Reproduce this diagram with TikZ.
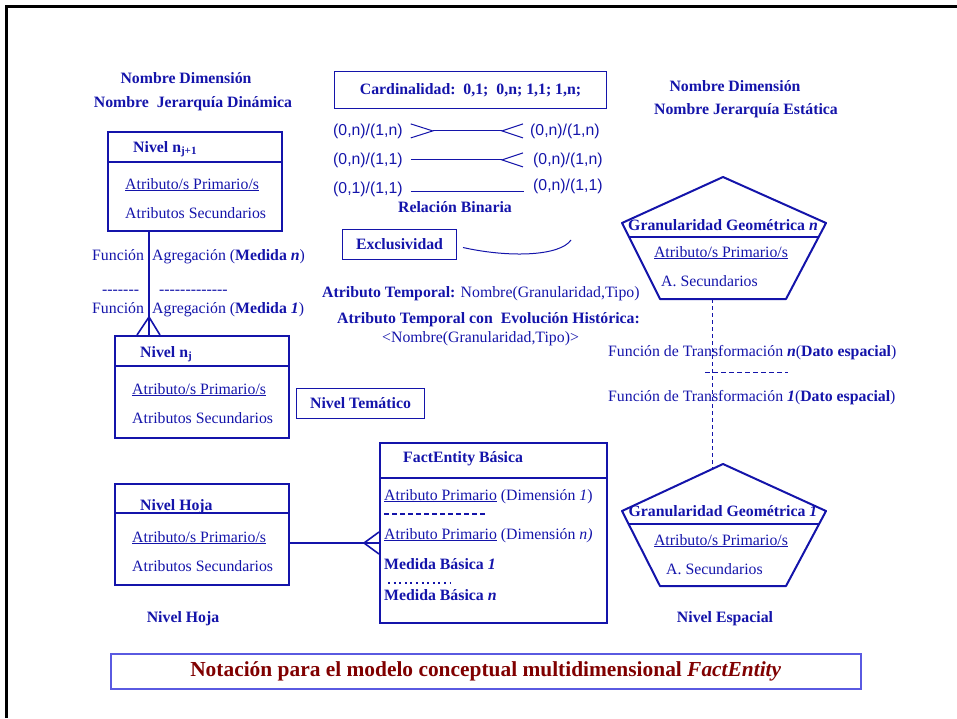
\documentclass[tikz,border=0pt]{standalone}
\usepackage{fontspec}
\setmainfont{Liberation Serif}
\setsansfont{Liberation Sans}
\usetikzlibrary{positioning}
\definecolor{azul}{RGB}{20,20,170}
\definecolor{granate}{RGB}{128,0,0}
\definecolor{marco}{RGB}{90,90,225}
\newcommand{\fsz}{\fontsize{15.8}{19}\selectfont}

\begin{document}
\begin{tikzpicture}[x=1pt,y=-1pt,
    txt/.style={text=azul,inner sep=0pt,font=\fsz},
    tit/.style={txt,font=\fsz\bfseries},
    card/.style={txt,font=\sffamily\fsz},
    ent/.style={draw=azul,line width=2pt,inner sep=0pt,anchor=north west},
    caja/.style={draw=azul,line width=1pt,text=azul,inner sep=0pt,
      anchor=north west,font=\fsz\bfseries},
    linea/.style={draw=azul,line width=1.6pt},
    fino/.style={draw=azul,line width=1pt}]
    \useasboundingbox (0,0) rectangle (957,718);
    \draw[line width=3pt] (6.5,718) -- (6.5,6.5) -- (957,6.5);
    % jerarquia dinamica
    \node[tit,anchor=base] (dimA) at (186,83) {Nombre Dimensión};
    \node[tit,anchor=base] (jerA) at (193,107) {Nombre\ \ Jerarquía Dinámica};
    \node[ent,minimum width=174pt,minimum height=99pt] (nsup) at (107,131) {};
    \draw[linea,line width=2pt] (nsup.west |- 0,162) -- (nsup.east |- 0,162);
    \node[tit,anchor=base west] (nsupT) at (133,152) {Nivel n\textsubscript{j+1}};
    \node[txt,anchor=base west] (nsupP) at (125,189) {\underline{Atributo/s Primario/s}};
    \node[txt,anchor=base west] (nsupS) at (125,218) {Atributos Secundarios};
    \node[txt,anchor=base west] (fun1) at (92,260) {Función};
    \node[txt,anchor=base west] (agr1) at (152,260) {Agregación (\textbf{Medida \textit{n}})};
    \node[txt,anchor=base west] (gui1) at (102,294) {-{}-{}-{}-{}-{}-{}-};
    \node[txt,anchor=base west] (gui2) at (159,294) {-{}-{}-{}-{}-{}-{}-{}-{}-{}-{}-{}-{}-};
    \node[txt,anchor=base west] (fun2) at (92,313) {Función};
    \node[txt,anchor=base west] (agr2) at (152,313) {Agregación (\textbf{Medida \textit{1}})};
    \node[ent,minimum width=174pt,minimum height=102pt] (ninf) at (114,335) {};
    \draw[linea,line width=2pt] (ninf.west |- 0,366) -- (ninf.east |- 0,366);
    \node[tit,anchor=base west] (ninfT) at (140,357) {Nivel n\textsubscript{j}};
    \node[txt,anchor=base west] (ninfP) at (132,394) {\underline{Atributo/s Primario/s}};
    \node[txt,anchor=base west] (ninfS) at (132,423) {Atributos Secundarios};
    \coordinate (agg) at (149,0);
    \draw[linea] (nsup.south -| agg) -- (ninf.north -| agg);
    \draw[linea] (ninf.north -| agg) ++(-12,0) -- ++(12,-18) -- ++(11,18);
    \node[caja,minimum width=128pt,minimum height=30pt] (tema) at (296,388) {Nivel Temático};
    % cardinalidad
    \node[caja,minimum width=272pt,minimum height=37pt] (cardi) at (334,71)
      {Cardinalidad:\ \ 0,1;\ \ 0,n; 1,1; 1,n;};
    \node[card,anchor=base west] (c1i) at (333,135) {(0,n)/(1,n)};
    \node[card,anchor=base west] (c1d) at (530,135) {(0,n)/(1,n)};
    \node[card,anchor=base west] (c2i) at (333,164) {(0,n)/(1,1)};
    \node[card,anchor=base west] (c2d) at (533,164) {(0,n)/(1,n)};
    \node[card,anchor=base west] (c3i) at (333,193) {(0,1)/(1,1)};
    \node[card,anchor=base west] (c3d) at (533,190) {(0,n)/(1,1)};
    \draw[fino] ([xshift=8pt]c1i.east) ++(0,-7) -- ++(22,7) -- ++(-22,7);
    \draw[fino] ([xshift=30pt]c1i.east) -- ([xshift=-28pt]c1d.west);
    \draw[fino] ([xshift=-7pt]c1d.west) ++(0,-7) -- ++(-21,7) -- ++(21,7);
    \draw[fino] ([xshift=8pt]c2i.east) -- ([xshift=-31pt]c2d.west);
    \draw[fino] ([xshift=-10pt]c2d.west) ++(0,-7) -- ++(-21,7) -- ++(21,7);
    \draw[fino] ([xshift=8pt,yshift=-3pt]c3i.east) -- ++(113,0);
    \node[tit,anchor=base] (relB) at (455,212) {Relación Binaria};
    \node[caja,minimum width=114pt,minimum height=30pt] (excl) at (342,229) {Exclusividad};
    \draw[fino] ([xshift=6pt,yshift=-3pt]excl.east) .. controls (510,258) and (560,256) .. (571,240);
    \node[txt,anchor=base west] (atT) at (322,297) {\textbf{Atributo Temporal:} Nombre(Granularidad,Tipo)};
    \node[tit,anchor=base west] (atH) at (337,323) {Atributo Temporal con\ \ Evolución Histórica:};
    \node[txt,anchor=base west] (atN) at (382,342) {<Nombre(Granularidad,Tipo)>};
    % jerarquia estatica
    \node[tit,anchor=base] (dimB) at (735,91) {Nombre Dimensión};
    \node[tit,anchor=base] (jerB) at (746,114) {Nombre Jerarquía Estática};
    \begin{scope}[shift={(723,177)}]
      \draw[linea,line width=2pt,line join=round] (0,0) -- (103,46) -- (63,122) -- (-63,122) -- (-101,46) -- cycle;
      \draw[linea] (-94,60) -- (96,60);
      \node[tit,anchor=base] (geoN) at (0,53) {Granularidad Geométrica \textit{n}};
      \node[txt,anchor=base] (geoNP) at (-2,80) {\underline{Atributo/s Primario/s}};
      \node[txt,anchor=base west] (geoNS) at (-62,109) {A. Secundarios};
      \coordinate (geoNbot) at (-11,122);
    \end{scope}
    \begin{scope}[shift={(723,464)}]
      \draw[linea,line width=2pt,line join=round] (0,0) -- (103,47) -- (63,122) -- (-63,122) -- (-101,47) -- cycle;
      \draw[linea] (-94,60) -- (96,60);
      \node[tit,anchor=base] (geo1) at (0,52) {Granularidad Geométrica \textit{1}};
      \node[txt,anchor=base] (geo1P) at (-2,81) {\underline{Atributo/s Primario/s}};
      \node[txt,anchor=base west] (geo1S) at (-57,110) {A. Secundarios};
      \coordinate (geo1top) at (-11,5);
    \end{scope}
    \draw[azul,line width=1pt,dash pattern=on 4pt off 3pt] (geoNbot) -- (geo1top);
    \node[txt,anchor=base west] (trN) at (608,356) {Función de Transformación \textbf{\textit{n}}(\textbf{Dato espacial})};
    \draw[azul,line width=1pt,dash pattern=on 5pt off 3pt] (705,372) -- (788,372);
    \node[txt,anchor=base west] (tr1) at (608,401) {Función de Transformación \textbf{\textit{1}}(\textbf{Dato espacial})};
    % nivel hoja y hecho
    \node[ent,minimum width=174pt,minimum height=101pt] (hoja) at (114,483) {};
    \draw[linea,line width=2pt] (hoja.west |- 0,513) -- (hoja.east |- 0,513);
    \node[tit,anchor=base west] (hojaT) at (140,510) {Nivel Hoja};
    \node[txt,anchor=base west] (hojaP) at (132,542) {\underline{Atributo/s Primario/s}};
    \node[txt,anchor=base west] (hojaS) at (132,571) {Atributos Secundarios};
    \node[ent,minimum width=227pt,minimum height=180pt] (fact) at (379,442) {};
    \draw[linea,line width=2pt] (fact.west |- 0,478) -- (fact.east |- 0,478);
    \node[tit,anchor=base west] (factT) at (403,462) {FactEntity Básica};
    \node[txt,anchor=base west] (fact1) at (384,500) {\underline{Atributo Primario} (Dimensión \textit{1})};
    \draw[azul,line width=2pt,dash pattern=on 5pt off 3pt] (384,514) -- (487,514);
    \node[txt,anchor=base west] (factN) at (384,539) {\underline{Atributo Primario} (Dimensión \textit{n)}};
    \node[tit,anchor=base west] (med1) at (384,569) {Medida Básica \textit{1}};
    \draw[azul,line width=2pt,dash pattern=on 2pt off 3.6pt] (388,583) -- (451,583);
    \node[tit,anchor=base west] (medN) at (384,600) {Medida Básica \textit{n}};
    \coordinate (ligHoja) at (0,543);
    \draw[linea] (hoja.east |- ligHoja) -- (fact.west |- ligHoja);
    \draw[linea] (fact.west |- ligHoja) ++(0,-11) -- ++(-15,11) -- ++(15,11);
    \node[tit,anchor=base] (hojaL) at (183,622) {Nivel Hoja};
    \node[tit,anchor=base] (espL) at (725,622) {Nivel Espacial};
    % titulo
    \node[draw=marco,line width=1.5pt,minimum width=750pt,minimum height=35pt,inner sep=0pt,
      anchor=north west,text=granate,font=\fontsize{21.4}{25}\selectfont\bfseries] (nota) at (110,653)
      {Notación para el modelo conceptual multidimensional \textit{FactEntity}};
\end{tikzpicture}
\end{document}
